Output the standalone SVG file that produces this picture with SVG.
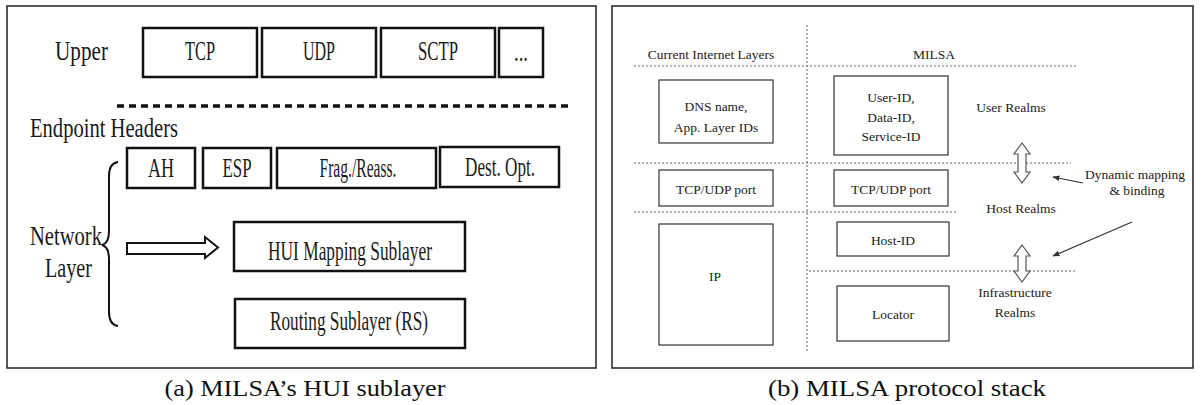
<svg xmlns="http://www.w3.org/2000/svg" width="1201" height="405" viewBox="0 0 1201 405" font-family="Liberation Serif, Times New Roman, serif">
<style>
text{font-family:'Liberation Serif','Times New Roman',Times,serif}
.frame{fill:none;stroke:#222;stroke-width:1.5}
.lb{fill:#fff;stroke:#111;stroke-width:2.5}
.lt{font-size:28px;fill:#1a1a1a;text-anchor:middle}
.rb{fill:#fff;stroke:#333;stroke-width:1.2}
.rt{font-size:13.5px;fill:#222;text-anchor:middle}
.rd{fill:none;stroke:#666;stroke-width:1;stroke-dasharray:2 2}
.cap{font-size:24px;fill:#111;text-anchor:middle}
.ha{fill:#fff;stroke:#555;stroke-width:1.2}
.ln{fill:none;stroke:#333;stroke-width:1.2}
</style>
<defs>
<marker id="ah" viewBox="0 0 10 10" refX="9" refY="5" markerWidth="6" markerHeight="6" orient="auto">
<path d="M0,1 L10,5 L0,9 Z" fill="#333"/>
</marker>
</defs>
<rect width="1201" height="405" fill="#fff"/>

<!-- Left panel -->
<rect class="frame" x="7" y="6" width="589" height="362"/>
<g id="upper-label"><text class="lt" x="81.5" y="60" textLength="53" lengthAdjust="spacingAndGlyphs">Upper</text></g>
<g id="tcp"><rect class="lb" x="143" y="28" width="114" height="49"/><text class="lt" x="200" y="60" textLength="30" lengthAdjust="spacingAndGlyphs">TCP</text></g>
<g id="udp"><rect class="lb" x="262" y="28" width="114" height="49"/><text class="lt" x="319" y="60" textLength="32" lengthAdjust="spacingAndGlyphs">UDP</text></g>
<g id="sctp"><rect class="lb" x="381" y="28" width="114" height="49"/><text class="lt" x="438" y="60" textLength="40" lengthAdjust="spacingAndGlyphs">SCTP</text></g>
<g id="more"><rect class="lb" x="499" y="28" width="44" height="49"/><text class="lt" x="521" y="61" textLength="14" lengthAdjust="spacingAndGlyphs">...</text></g>
<line x1="117" y1="106" x2="570" y2="106" stroke="#111" stroke-width="3.5" stroke-dasharray="7 5"/>
<g id="endpoint-label"><text class="lt" x="104" y="137" textLength="148" lengthAdjust="spacingAndGlyphs">Endpoint Headers</text></g>
<g id="ah-box"><rect class="lb" x="127" y="148" width="68" height="40"/><text class="lt" x="161" y="177" textLength="26" lengthAdjust="spacingAndGlyphs">AH</text></g>
<g id="esp"><rect class="lb" x="203" y="148" width="68" height="40"/><text class="lt" x="237" y="177" textLength="29" lengthAdjust="spacingAndGlyphs">ESP</text></g>
<g id="frag"><rect class="lb" x="277" y="148" width="159" height="40"/><text class="lt" x="358" y="177" textLength="77" lengthAdjust="spacingAndGlyphs">Frag./Reass.</text></g>
<g id="dest"><rect class="lb" x="440" y="147" width="119" height="40"/><text class="lt" x="500" y="176" textLength="70" lengthAdjust="spacingAndGlyphs">Dest. Opt.</text></g>
<g id="network-label">
<text class="lt" x="66" y="245" textLength="72" lengthAdjust="spacingAndGlyphs">Network</text>
<text class="lt" x="68.5" y="277" textLength="47" lengthAdjust="spacingAndGlyphs">Layer</text>
<path d="M118,162 C111,163 109,168 109,176 L109,231 C109,240 106,244 102,245 C106,246 109,250 109,259 L109,312 C109,320 111,325 118,326" fill="none" stroke="#111" stroke-width="2"/>
</g>
<g id="hui"><rect class="lb" x="234" y="222" width="231" height="49"/><text class="lt" x="350" y="260" textLength="164" lengthAdjust="spacingAndGlyphs">HUI Mapping Sublayer</text></g>
<g id="rs"><rect class="lb" x="235" y="299" width="230" height="49"/><text class="lt" x="349" y="330" textLength="158" lengthAdjust="spacingAndGlyphs">Routing Sublayer (RS)</text></g>
<text class="cap" x="305" y="396" textLength="281" lengthAdjust="spacingAndGlyphs">(a) MILSA’s HUI sublayer</text>

<!-- Right panel -->
<rect class="frame" x="612" y="6" width="581" height="362"/>
<g id="col-current"><text class="rt" x="711" y="59">Current Internet Layers</text></g>
<g id="col-milsa"><text class="rt" x="934" y="59">MILSA</text></g>
<g id="dividers">
<line class="rd" x1="807" y1="25" x2="807" y2="352"/>
<line class="rd" x1="634" y1="66" x2="1076" y2="66"/>
<line class="rd" x1="634" y1="163" x2="1071" y2="163"/>
<line class="rd" x1="634" y1="212" x2="957" y2="212"/>
<line class="rd" x1="809" y1="271" x2="1076" y2="271"/>
</g>
<g id="dns"><rect class="rb" x="659" y="80" width="114" height="63"/><text class="rt" x="716" y="111">DNS name,</text><text class="rt" x="716" y="132">App. Layer IDs</text></g>
<g id="userid"><rect class="rb" x="834" y="76" width="114" height="79"/><text class="rt" x="891" y="102">User-ID,</text><text class="rt" x="891" y="122">Data-ID,</text><text class="rt" x="891" y="141">Service-ID</text></g>
<g id="user-realms"><text class="rt" x="1011" y="112">User Realms</text></g>
<g id="tcpudp-left"><rect class="rb" x="659" y="170" width="114" height="36"/><text class="rt" x="716" y="194">TCP/UDP port</text></g>
<g id="tcpudp-right"><rect class="rb" x="834" y="170" width="114" height="36"/><text class="rt" x="891" y="194">TCP/UDP port</text></g>
<g id="host-realms"><text class="rt" x="1021" y="213">Host Realms</text></g>
<g id="ip"><rect class="rb" x="659" y="224" width="114" height="121"/><text class="rt" x="715" y="281">IP</text></g>
<g id="hostid"><rect class="rb" x="837" y="222" width="112" height="34"/><text class="rt" x="893" y="245">Host-ID</text></g>
<g id="locator"><rect class="rb" x="837" y="286" width="112" height="55"/><text class="rt" x="893" y="319">Locator</text></g>
<g id="infra-realms"><text class="rt" x="1015" y="297">Infrastructure</text><text class="rt" x="1015" y="317">Realms</text></g>
<g id="dyn-label"><text class="rt" x="1135" y="179">Dynamic mapping</text><text class="rt" x="1137" y="195">&amp; binding</text></g>
<g id="connectors">
<path class="ha" d="M1022,143 L1030,154 L1026,154 L1026,172 L1030,172 L1022,183 L1014,172 L1018,172 L1018,154 L1014,154 Z"/>
<path class="ha" d="M1022,245 L1030,256 L1026,256 L1026,271 L1030,271 L1022,282 L1014,271 L1018,271 L1018,256 L1014,256 Z"/>
<line class="ln" x1="1083" y1="183" x2="1053" y2="177" marker-end="url(#ah)"/>
<line class="ln" x1="1132" y1="222" x2="1053" y2="256" marker-end="url(#ah)"/>
<path d="M127,243 L205,243 L205,237 L218,247.5 L205,258 L205,254 L127,254 Z" fill="#fff" stroke="#111" stroke-width="2"/>
</g>
<text class="cap" x="907" y="396" textLength="278" lengthAdjust="spacingAndGlyphs">(b) MILSA protocol stack</text>
</svg>
